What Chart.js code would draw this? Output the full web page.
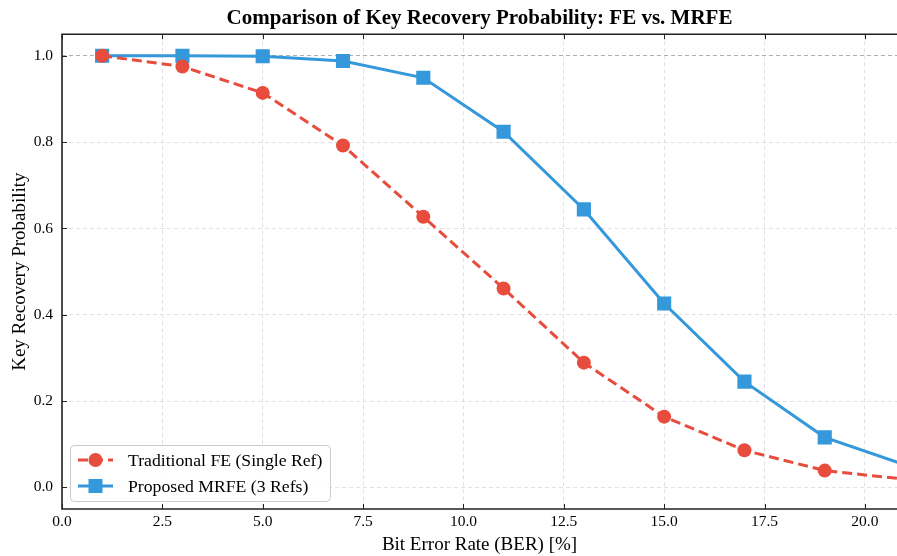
<!DOCTYPE html>
<html>
<head>
<meta charset="UTF-8">
<title>Key Recovery Probability</title>
<script src="https://cdn.jsdelivr.net/npm/chart.js"></script>
<style>
  html, body { margin: 0; padding: 0; background: #fff; }
  #wrap { width: 897px; height: 556px; }
</style>
</head>
<body>
<div id="wrap"><canvas id="myChart" width="897" height="556"></canvas></div>
<script>
// data
var berValues = [1, 3, 5, 7, 9, 11, 13, 15, 17, 19, 21];
var feValues = [1.0, 0.975, 0.914, 0.792, 0.627, 0.461, 0.289, 0.164, 0.086, 0.039, 0.019];
var mrfeValues = [1.0, 1.0, 0.999, 0.988, 0.949, 0.824, 0.644, 0.426, 0.245, 0.116, 0.052];
var xTicks = [0, 2.5, 5, 7.5, 10, 12.5, 15, 17.5, 20];
var yTicks = [0, 0.2, 0.4, 0.6, 0.8, 1.0];
var seriesNames = ['Traditional FE (Single Ref)', 'Proposed MRFE (3 Refs)'];

var RED = '#E74C3C', BLUE = '#3498DB';
var SERIF = "'Liberation Serif', 'DejaVu Serif', serif";

function toPoints(vals) {
  return berValues.map(function (x, i) { return { x: x, y: vals[i] }; });
}

// frame + inward ticks
var framePlugin = {
  id: 'frame',
  afterDatasetsDraw: function (chart) {
    var ctx = chart.ctx, a = chart.chartArea;
    var xs = chart.scales.x, ys = chart.scales.y;
    ctx.save();
    ctx.strokeStyle = '#222';
    ctx.lineWidth = 1;
    xTicks.forEach(function (v) {
      var px = Math.round(xs.getPixelForValue(v)) + 0.5;
      ctx.beginPath();
      ctx.moveTo(px, a.bottom); ctx.lineTo(px, a.bottom - 5);
      ctx.moveTo(px, a.top); ctx.lineTo(px, a.top + 5);
      ctx.stroke();
    });
    yTicks.forEach(function (v) {
      var py = Math.round(ys.getPixelForValue(v)) + 0.5;
      ctx.beginPath();
      ctx.moveTo(a.left, py); ctx.lineTo(a.left + 5, py);
      ctx.stroke();
    });
    ctx.lineWidth = 1.6;
    ctx.beginPath();
    ctx.moveTo(a.right, a.top);
    ctx.lineTo(a.left, a.top);
    ctx.lineTo(a.left, a.bottom);
    ctx.lineTo(a.right, a.bottom);
    ctx.stroke();
    ctx.restore();
  }
};

// legend in the lower left corner of the plot
var legendPlugin = {
  id: 'innerLegend',
  afterDraw: function (chart) {
    var ctx = chart.ctx, a = chart.chartArea;
    var bx = a.left + 8, by = a.bottom - 64, bw = 260, bh = 56;
    ctx.save();
    ctx.fillStyle = 'rgba(255,255,255,0.85)';
    ctx.strokeStyle = '#cccccc';
    ctx.lineWidth = 1;
    ctx.beginPath();
    ctx.roundRect(bx + 0.5, by + 0.5, bw, bh, 4);
    ctx.fill();
    ctx.stroke();

    var rows = [by + 15, by + 41];
    chart.data.datasets.forEach(function (ds, i) {
      var y = rows[i];
      ctx.strokeStyle = ds.borderColor;
      ctx.lineWidth = ds.borderWidth;
      ctx.setLineDash(ds.borderDash || []);
      ctx.beginPath();
      ctx.moveTo(bx + 8, y); ctx.lineTo(bx + 43, y);
      ctx.stroke();
      ctx.setLineDash([]);
      ctx.fillStyle = ds.pointBackgroundColor;
      if (ds.pointStyle === 'rect') {
        ctx.fillRect(bx + 25.5 - 7, y - 7, 14, 14);
      } else {
        ctx.beginPath();
        ctx.arc(bx + 25.5, y, 7, 0, Math.PI * 2);
        ctx.fill();
      }
      ctx.fillStyle = '#000';
      ctx.font = '17.7px ' + SERIF;
      ctx.textBaseline = 'middle';
      ctx.textAlign = 'left';
      ctx.fillText(ds.label, bx + 58, y + 1);
    });
    ctx.restore();
  }
};

var ctx = document.getElementById('myChart').getContext('2d');
var myChart = new Chart(ctx, {
  type: 'line',
  data: {
    datasets: [{
      label: seriesNames[0],
      data: toPoints(feValues),
      borderColor: RED,
      backgroundColor: RED,
      pointBackgroundColor: RED,
      pointBorderColor: RED,
      borderWidth: 3,
      borderDash: [10, 5],
      pointStyle: 'circle',
      pointRadius: 7,
      pointBorderWidth: 0,
      tension: 0,
      clip: 0
    }, {
      label: seriesNames[1],
      data: toPoints(mrfeValues),
      borderColor: BLUE,
      backgroundColor: BLUE,
      pointBackgroundColor: BLUE,
      pointBorderColor: BLUE,
      borderWidth: 3,
      pointStyle: 'rect',
      pointRadius: 10,
      pointBorderWidth: 0,
      tension: 0,
      clip: 0
    }]
  },
  options: {
    responsive: false,
    animation: false,
    layout: { padding: 0, autoPadding: false },
    plugins: {
      legend: { display: false },
      tooltip: { enabled: false },
      title: {
        display: true,
        fullSize: false,
        text: 'Comparison of Key Recovery Probability: FE vs. MRFE',
        color: '#000',
        font: { family: SERIF, size: 21, weight: 'bold' },
        padding: { top: 6, bottom: 3 }
      }
    },
    scales: {
      x: {
        type: 'linear',
        min: 0,
        max: 20.8,
        afterBuildTicks: function (s) { s.ticks = xTicks.map(function (v) { return { value: v }; }); },
        afterFit: function (s) { s.height = 47; s.paddingRight = 0; s.paddingLeft = 0; },
        ticks: {
          color: '#000',
          font: { family: SERIF, size: 15.5 },
          padding: 4,
          maxRotation: 0,
          callback: function (v) { return Number(v).toFixed(1); }
        },
        grid: { color: '#d9d9d9', lineWidth: 0.8, drawTicks: false },
        border: { display: false, dash: [4, 3] },
        title: {
          display: true,
          text: 'Bit Error Rate (BER) [%]',
          color: '#000',
          font: { family: SERIF, size: 19 },
          padding: { top: 0, bottom: 0 }
        }
      },
      y: {
        min: -0.05,
        max: 1.05,
        afterBuildTicks: function (s) { s.ticks = yTicks.map(function (v) { return { value: v }; }); },
        afterFit: function (s) { s.width = 62; s.paddingTop = 0; s.paddingBottom = 0; },
        ticks: {
          color: '#000',
          font: { family: SERIF, size: 15.5 },
          padding: 9,
          callback: function (v) { return Number(v).toFixed(1); }
        },
        grid: {
          color: function (c) { return c.tick && Math.abs(c.tick.value - 1) < 1e-9 ? '#9a9a9a' : '#d9d9d9'; },
          lineWidth: 0.8,
          drawTicks: false
        },
        border: { display: false, dash: [4, 3] },
        title: {
          display: true,
          text: 'Key Recovery Probability',
          color: '#000',
          font: { family: SERIF, size: 19 },
          padding: { top: 9, bottom: 0 }
        }
      }
    }
  },
  plugins: [framePlugin, legendPlugin]
});
</script>
</body>
</html>
